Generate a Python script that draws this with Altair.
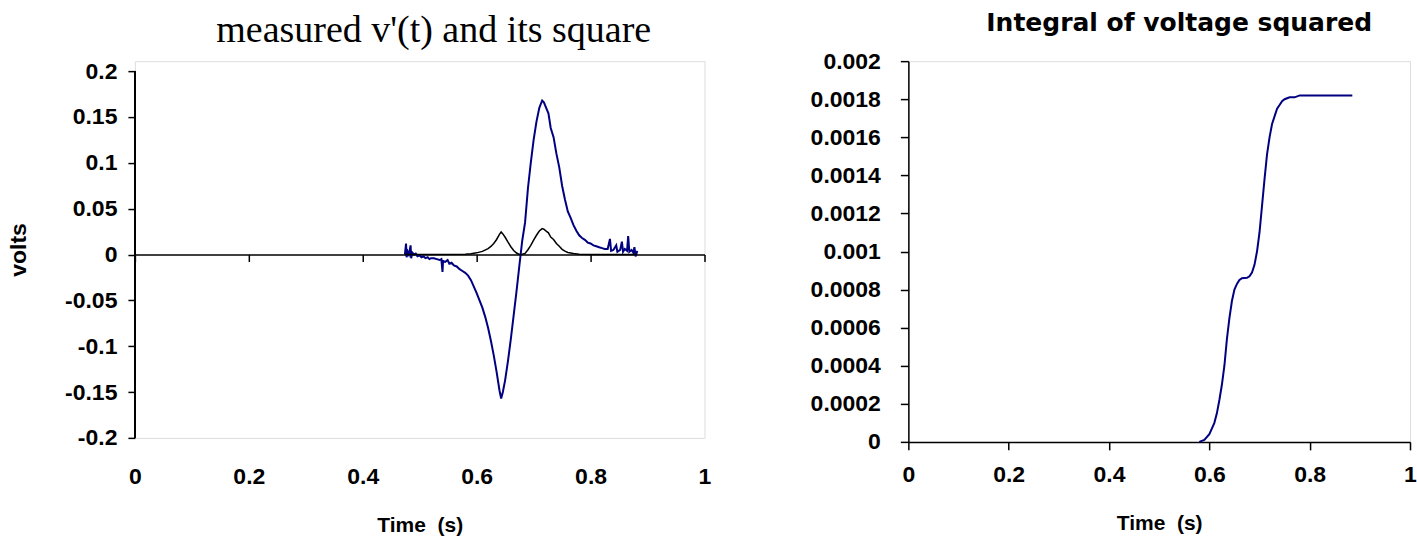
import altair as alt
import pandas as pd

# ---- data ----
t_v = [0.474, 0.476, 0.477, 0.479, 0.481, 0.484, 0.485, 0.487, 0.490, 0.493, 0.496,
       0.500, 0.503, 0.507, 0.510, 0.514, 0.517, 0.520, 0.525, 0.530, 0.535, 0.538,
       0.540, 0.541, 0.545, 0.549, 0.552, 0.556, 0.560, 0.565, 0.570, 0.575, 0.580,
       0.585, 0.590, 0.595, 0.600, 0.605, 0.610, 0.615, 0.620, 0.625, 0.630, 0.635,
       0.640, 0.643, 0.646, 0.650, 0.655, 0.660, 0.665, 0.670, 0.675, 0.680, 0.685,
       0.690, 0.695, 0.700, 0.705, 0.710, 0.715, 0.718, 0.722, 0.726, 0.730, 0.735,
       0.740, 0.745, 0.750, 0.755, 0.760, 0.765, 0.770, 0.775, 0.780, 0.785, 0.790,
       0.795, 0.800, 0.805, 0.810, 0.815, 0.820, 0.825, 0.830, 0.834, 0.836, 0.840,
       0.845, 0.847, 0.852, 0.855, 0.857, 0.860, 0.864, 0.866, 0.868, 0.872, 0.875,
       0.877, 0.879, 0.882]
v = [0.000, 0.012, -0.003, 0.003, 0.000, 0.010, -0.004, 0.002, 0.000, 0.001, -0.002,
     -0.001, -0.003, -0.002, -0.004, -0.003, -0.005, -0.004, -0.004, -0.005, -0.006, -0.005,
     -0.019, -0.007, -0.008, -0.006, -0.010, -0.009, -0.012, -0.013, -0.016, -0.018, -0.020,
     -0.023, -0.028, -0.035, -0.042, -0.050, -0.058, -0.068, -0.080, -0.094, -0.110, -0.128,
     -0.148, -0.157, -0.150, -0.137, -0.116, -0.092, -0.066, -0.040, -0.012, 0.015, 0.035,
     0.072, 0.100, 0.125, 0.145, 0.160, 0.168, 0.166, 0.160, 0.154, 0.138, 0.128,
     0.110, 0.095, 0.075, 0.060, 0.047, 0.040, 0.032, 0.026, 0.021, 0.018, 0.016,
     0.013, 0.012, 0.010, 0.009, 0.008, 0.007, 0.006, 0.006, 0.017, 0.004, 0.005,
     0.010, 0.003, 0.005, 0.014, 0.003, 0.006, 0.004, 0.020, 0.003, 0.005, 0.002,
     0.008, -0.002, 0.004]

t_sq = [0.474, 0.580, 0.590, 0.600, 0.610, 0.620, 0.625, 0.630, 0.635, 0.640, 0.643,
        0.646, 0.650, 0.655, 0.660, 0.665, 0.670, 0.675, 0.680, 0.685, 0.690, 0.695,
        0.700, 0.705, 0.710, 0.715, 0.718, 0.722, 0.726, 0.730, 0.735, 0.740, 0.745,
        0.750, 0.755, 0.760, 0.770, 0.780, 0.800, 0.882]
sq = [0.0, 0.0004, 0.0008, 0.0018, 0.0034, 0.0064, 0.0088, 0.0121, 0.0164, 0.0219, 0.0246,
      0.0225, 0.0188, 0.0135, 0.0085, 0.0044, 0.0016, 0.0001, 0.0002, 0.0012, 0.0052, 0.0100,
      0.0156, 0.0210, 0.0256, 0.0282, 0.0276, 0.0256, 0.0237, 0.0190, 0.0164, 0.0121, 0.0090,
      0.0056, 0.0036, 0.0022, 0.0010, 0.0004, 0.0001, 0.0]

t_int = [0.580, 0.590, 0.600, 0.605, 0.610, 0.615, 0.620, 0.625, 0.630, 0.635, 0.640,
         0.645, 0.650, 0.655, 0.660, 0.665, 0.675, 0.680, 0.685, 0.690, 0.695, 0.700,
         0.705, 0.710, 0.715, 0.720, 0.725, 0.730, 0.735, 0.740, 0.745, 0.750, 0.760,
         0.770, 0.780, 0.885]
integ = [0.0, 0.00001, 0.00004, 0.00007, 0.00010, 0.00015, 0.00022, 0.00030, 0.00040, 0.00054, 0.00065,
         0.00074, 0.00080, 0.00083, 0.00085, 0.00086, 0.000862, 0.00087, 0.00089, 0.00093, 0.00100, 0.00110,
         0.00124, 0.00138, 0.00151, 0.00160, 0.00167, 0.00171, 0.00175, 0.00177, 0.00179, 0.00180, 0.00181,
         0.00181, 0.00182, 0.00182]

x_ticks = [0, 0.2, 0.4, 0.6, 0.8, 1]
y_left_ticks = [-0.2, -0.15, -0.1, -0.05, 0, 0.05, 0.1, 0.15, 0.2]
y_right_ticks = [0, 0.0002, 0.0004, 0.0006, 0.0008, 0.001, 0.0012, 0.0014, 0.0016, 0.0018, 0.002]
y_left_range = [-0.2, 0.2]
y_right_range = [0, 0.002]

left_title = "measured v'(t) and its square"
right_title = "Integral of voltage squared"
x_title = "Time\u00a0\u00a0(s)"
y_title = "volts"

df_v = pd.DataFrame({"t": t_v, "v": v})
df_sq = pd.DataFrame({"t": t_sq, "v": sq})
df_int = pd.DataFrame({"t": t_int, "v": integ})

LBL = "Liberation Sans Narrow, Liberation Sans, Arial"
TTL = "Liberation Sans, Arial"
lbl_expr = "datum.value < 0 ? '-' + format(-datum.value, '~g') : format(datum.value, '~g')"

common_axis = dict(
    grid=False, domainColor="black", domainWidth=1.5, tickColor="black", tickWidth=1.5,
    labelFont=LBL, labelFontSize=23, labelFontWeight="bold", labelColor="black",
    titleFont=TTL, titleFontSize=21, titleFontWeight="bold", titleColor="black",
)

xscale = alt.Scale(domain=[0, 1], nice=False, zero=False)

# ---- left panel ----
# plot area is 10 px taller than the axis span so both panels share one top edge
LEFT_H = 377
left_top = y_left_range[1] + 10 * (y_left_range[1] - y_left_range[0]) / (LEFT_H - 10)

xl_axis = alt.Axis(values=x_ticks, labelExpr=lbl_expr, offset=-183.5, tickSize=7,
                   labelPadding=204, maxExtent=260, title=x_title, titlePadding=26,
                   labelFlush=False, **common_axis)
yl_axis = alt.Axis(values=y_left_ticks, labelExpr=lbl_expr, tickSize=7, labelPadding=11,
                   domain=False, title=y_title, titlePadding=34, minExtent=70, maxExtent=70,
                   **{**common_axis, "titleFontSize": 23})
yl_scale = alt.Scale(domain=[y_left_range[0], left_top], nice=False, zero=False)

blue = alt.Chart(df_v).mark_line(color="#000080", strokeWidth=2).encode(
    x=alt.X("t:Q", scale=xscale, axis=xl_axis),
    y=alt.Y("v:Q", scale=yl_scale, axis=yl_axis),
)
black = alt.Chart(df_sq).mark_line(color="black", strokeWidth=1.5).encode(
    x=alt.X("t:Q", scale=xscale),
    y=alt.Y("v:Q", scale=yl_scale),
)
yline = alt.Chart(df_sq).mark_rule(color="black", strokeWidth=1.5).encode(
    x=alt.datum(0, scale=xscale),
    y=alt.datum(y_left_range[0], scale=yl_scale),
    y2=alt.datum(y_left_range[1]),
)
left = alt.layer(blue, black, yline).properties(
    width=570, height=LEFT_H,
    title=alt.TitleParams(text=left_title, font="Liberation Serif", fontSize=38,
                          fontWeight="normal", color="black", anchor="middle",
                          frame="group", dx=14, offset=10),
)

# ---- right panel ----
xr_axis = alt.Axis(values=x_ticks, labelExpr=lbl_expr, tickSize=8, labelPadding=14,
                   title=x_title, titlePadding=26, labelFlush=False, **common_axis)
yr_axis = alt.Axis(values=y_right_ticks, labelExpr=lbl_expr, tickSize=8, labelPadding=20,
                   title=None, **common_axis)
right = alt.Chart(df_int).mark_line(color="#000080", strokeWidth=2).encode(
    x=alt.X("t:Q", scale=xscale, axis=xr_axis),
    y=alt.Y("v:Q", scale=alt.Scale(domain=y_right_range, nice=False), axis=yr_axis),
).properties(
    width=502, height=381,
    title=alt.TitleParams(text=right_title, font="DejaVu Sans", fontSize=25,
                          fontWeight="bold", color="black", anchor="middle",
                          frame="group", dx=20, offset=14),
)

chart = alt.hconcat(left, right, spacing=98).properties(
    padding={"left": 7, "top": 10, "right": 0, "bottom": 0},
).configure_view(stroke="transparent").configure(background="white")

chart.save("out.html", embed_options={"renderer": "svg", "actions": False})
